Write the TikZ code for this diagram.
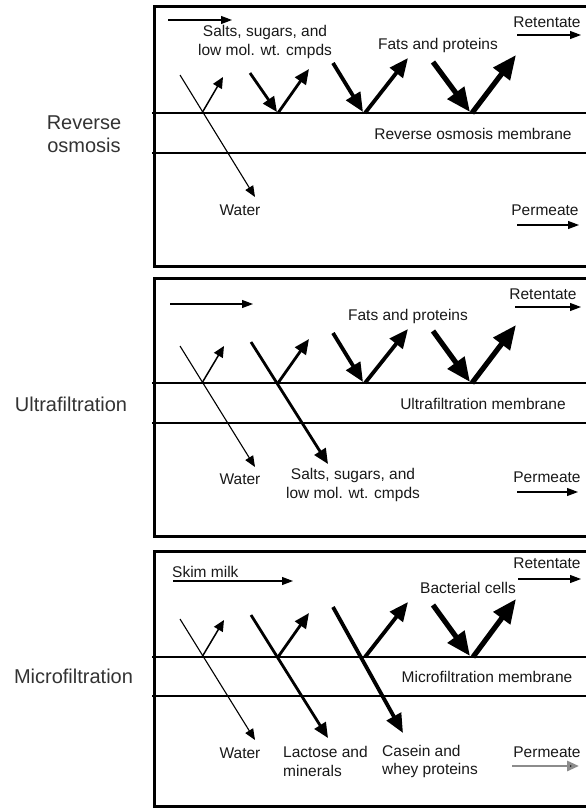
\documentclass[tikz,border=0pt]{standalone}
\usepackage{fontspec}
\setmainfont{Liberation Sans}
\usetikzlibrary{arrows.meta}
\begin{document}
\begin{tikzpicture}[x=1pt,y=-1pt,
  panel/.style={line width=3pt, draw=black},
  memb/.style={line width=2.4pt, draw=black},
  lbl/.style={font=\fontsize{15.5}{18.5}\selectfont, text=black!90, inner sep=0pt, align=center},
  side/.style={font=\fontsize{20}{23}\selectfont, text=black!80, inner sep=0pt, align=center},
  flow/.style={line width=1.1pt, -{Triangle[length=11pt,width=8pt]}},
  thinar/.style={line width=1.1pt, -{Triangle[length=11pt,width=9pt]}},
  upsmall/.style={line width=1.5pt, -{Triangle[length=11pt,width=10pt]}},
  medar/.style={line width=2.8pt, -{Triangle[length=15pt,width=13pt]}},
  thickar/.style={line width=3.8pt, -{Triangle[length=19pt,width=16pt]}},
  hugear/.style={line width=5.2pt, -{Triangle[length=24pt,width=20pt]}}
]
\clip (0,0) rectangle (586,809);
\fill[white] (0,0) rectangle (586,809);

% ---------------- Panel 1: Reverse osmosis ----------------
\draw[panel] (600,6) -- (154,6) -- (154,266) -- (600,266);
\draw[memb] (152,113) -- (600,113);
\draw[memb] (152,153) -- (600,153);
\node[side] (ro) at (84,134) {Reverse\\osmosis};
\draw[flow] (168,20) -- (232,20);
\node[lbl] (rosalts) at (265,42) {Salts, sugars, and\\low mol. wt. cmpds};
\node[lbl] (rofats) at (438,45) {Fats and proteins};
\node[lbl] (roret) at (547,22) {Retentate};
\draw[flow] (517,35) -- (581,35);
\draw[thinar] (180,75) -- (255,197);
\draw[upsmall] (202,113) -- (223,77);
\draw[medar] (250,73) -- (277,112);
\draw[medar] (278,113) -- (309,69);
\draw[thickar] (333,63) -- (363,112);
\draw[thickar] (365,113) -- (408,58);
\draw[hugear] (433,62) -- (470,112);
\draw[hugear] (472,113) -- (516,55);
\node[lbl] (romem) at (473,134) {Reverse osmosis membrane};
\node[lbl] (rowater) at (240,210) {Water};
\node[lbl] (roperm) at (545,210) {Permeate};
\draw[flow] (517,225) -- (579,225);

% ---------------- Panel 2: Ultrafiltration ----------------
\draw[panel] (600,278) -- (154,278) -- (154,536) -- (600,536);
\draw[memb] (152,383) -- (600,383);
\draw[memb] (152,423) -- (600,423);
\node[side] (uf) at (71,404) {Ultrafiltration};
\draw[flow] (170,304) -- (253,304);
\node[lbl] (ufret) at (543,294) {Retentate};
\draw[flow] (515,307) -- (581,307);
\node[lbl] (uffats) at (408,316) {Fats and proteins};
\draw[thinar] (180,346) -- (255,467);
\draw[upsmall] (202,383) -- (224,346);
\draw[medar] (251,342) -- (328,464);
\draw[medar] (278,383) -- (309,339);
\draw[thickar] (333,333) -- (363,382);
\draw[thickar] (365,383) -- (408,329);
\draw[hugear] (433,331) -- (470,382);
\draw[hugear] (472,383) -- (516,325);
\node[lbl] (ufmem) at (483,404) {Ultrafiltration membrane};
\node[lbl] (ufwater) at (240,479) {Water};
\node[lbl] (ufsalts) at (353,485) {Salts, sugars, and\\low mol. wt. cmpds};
\node[lbl] (ufperm) at (547,477) {Permeate};
\draw[flow] (517,492) -- (578,492);

% ---------------- Panel 3: Microfiltration ----------------
\draw[panel] (600,551) -- (154,551) -- (154,806) -- (600,806);
\draw[memb] (152,657) -- (600,657);
\draw[memb] (152,696) -- (600,696);
\node[side] (mf) at (73.5,676) {Microfiltration};
\node[lbl, anchor=base west] (skim) at (172,577) {Skim milk};
\draw[flow] (173,581) -- (293,581);
\node[lbl] (mfret) at (547,563) {Retentate};
\draw[flow] (518,579) -- (581,579);
\node[lbl] (mfbac) at (468,588) {Bacterial cells};
\draw[thinar] (180,619) -- (255,740);
\draw[upsmall] (202,657) -- (224,620);
\draw[medar] (251,615) -- (328,738);
\draw[medar] (278,657) -- (309,613);
\draw[thickar] (333,607) -- (403,733);
\draw[thickar] (365,657) -- (408,602);
\draw[hugear] (433,605) -- (470,656);
\draw[hugear] (473,657) -- (516,599);
\node[lbl] (mfmem) at (487,677) {Microfiltration membrane};
\node[lbl] (mfwater) at (240,753) {Water};
\node[lbl, align=left, anchor=west] (mflac) at (283,761.5) {Lactose and\\minerals};
\node[lbl, align=left, anchor=west] (mfcas) at (382,761.5) {Casein and\\whey proteins};
\node[lbl] (mfperm) at (547,752) {Permeate};
\draw[line width=2.8pt, draw=black!45, -{Triangle[length=12pt,width=10pt,fill=black]}] (512,766) -- (579,766);
\end{tikzpicture}
\end{document}
